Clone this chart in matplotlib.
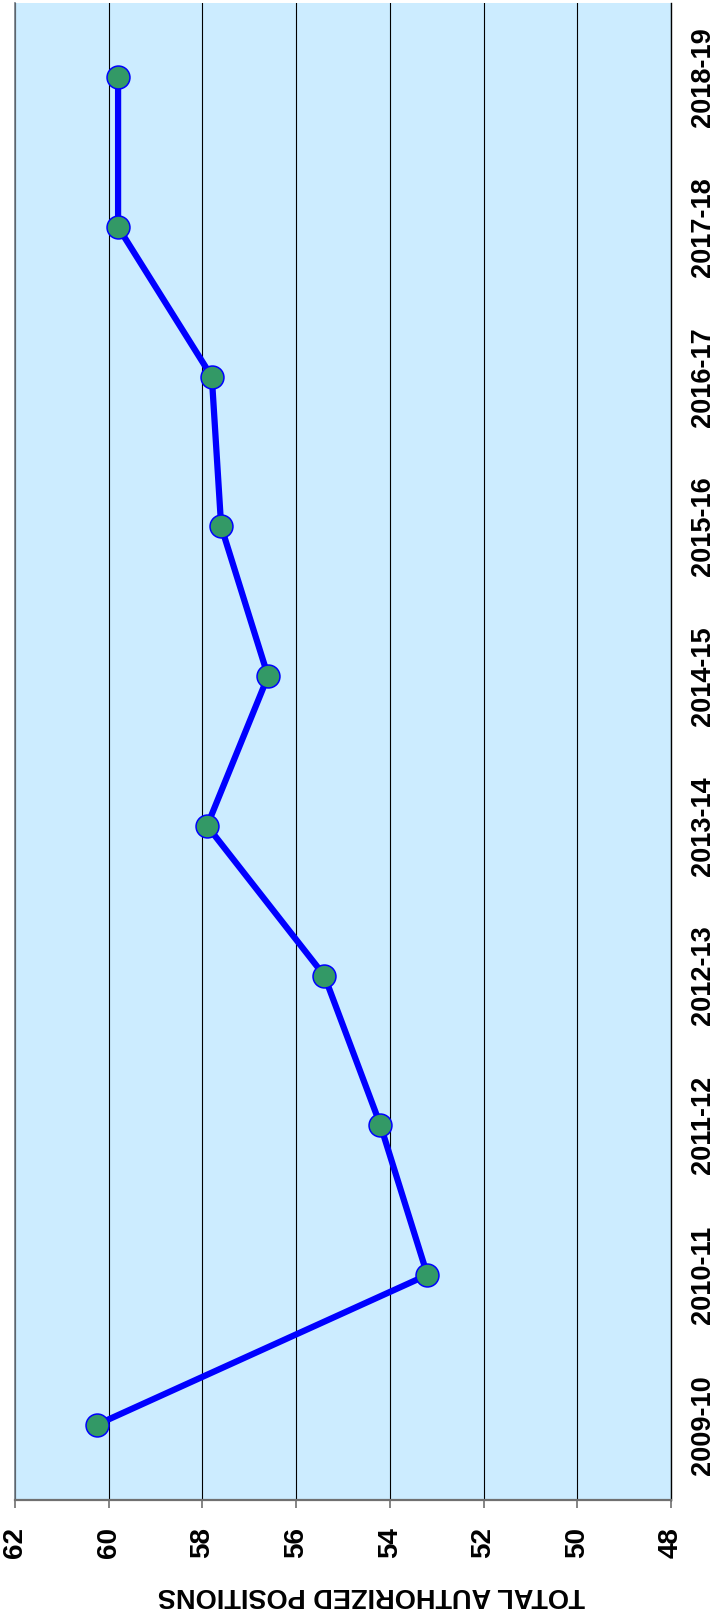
import matplotlib
matplotlib.use("Agg")
import matplotlib.pyplot as plt

# Fiscal years and authorized position totals
years = ["2009-10", "2010-11", "2011-12", "2012-13", "2013-14",
         "2014-15", "2015-16", "2016-17", "2017-18", "2018-19"]
positions = [60.25, 53.2, 54.2, 55.4, 57.9, 56.6, 57.6, 57.8, 59.8, 59.8]
value_ticks = [62, 60, 58, 56, 54, 52, 50, 48]
axis_title = "TOTAL AUTHORIZED POSITIONS"

plt.rcParams["font.family"] = ["Liberation Sans", "DejaVu Sans"]

W, H = 714, 1612
fig = plt.figure(figsize=(W / 100, H / 100), dpi=100)
fig.patch.set_facecolor("white")

# plot area in pixel units (left, right, top, bottom measured from top-left)
pl, pr, pt, pb = 15, 671, 2.5, 1499.5
ax = fig.add_axes([pl / W, (H - pb) / H, (pr - pl) / W, (pb - pt) / H])
ax.set_facecolor("#CCECFF")

ypos = list(range(len(years)))
ax.plot(positions, ypos, color="#0000FF", lw=4.5, zorder=3,
        marker="o", markersize=16.5, markerfacecolor="#339966",
        markeredgecolor="#0000FF", markeredgewidth=1.1, solid_joinstyle="round")

ax.set_xlim(62, 48)
ax.set_ylim(-0.5, len(years) - 0.5)

ax.set_xticks(value_ticks)
ax.set_xticklabels([str(v) for v in value_ticks], rotation=90,
                   fontsize=20, fontweight="bold")
ax.tick_params(axis="x", direction="out", length=5.8, width=1.2,
               color="#707070", pad=14)

ax.yaxis.tick_right()
ax.set_yticks(ypos)
ax.set_yticklabels(years, rotation=90, fontsize=19.5, fontweight="bold",
                   va="center", ha="left")
ax.tick_params(axis="y", length=0, pad=14)

ax.grid(axis="x", color="black", lw=0.8, zorder=1)
ax.grid(axis="y", visible=False)
ax.set_axisbelow(True)

ax.spines["top"].set_visible(False)
ax.spines["left"].set_color("#707a84")
ax.spines["left"].set_linewidth(1.2)
ax.spines["bottom"].set_color("#707070")
ax.spines["bottom"].set_linewidth(1.6)
ax.spines["right"].set_color("black")
ax.spines["right"].set_linewidth(1.0)

fig.text(371 / W, (H - 1594.5) / H, axis_title, rotation=180,
         ha="center", va="center", fontsize=19.5, fontweight="bold")

fig.savefig("out.png", dpi=100, facecolor="white")
